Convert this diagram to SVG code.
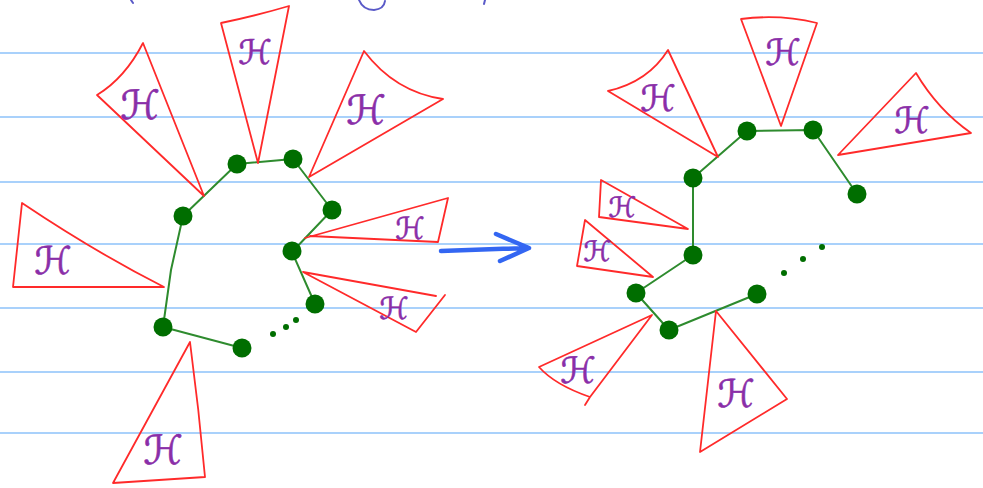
<svg xmlns="http://www.w3.org/2000/svg" width="983" height="488" viewBox="0 0 983 488">
<style>
.rule{stroke:#a9d1fb;stroke-width:2;fill:none}
.edge{stroke:#2e8b2e;stroke-width:2;fill:none;stroke-linejoin:round}
.dot{fill:#006e00}
.tri{stroke:#ff2a2a;stroke-width:1.8;fill:none;stroke-linejoin:round;stroke-linecap:round}
.h{fill:#8a2ea8;stroke:#8a2ea8;stroke-width:0.6;font-family:"DejaVu Sans",sans-serif;text-anchor:middle;dominant-baseline:central}
.ink{stroke:#5a5ac8;stroke-width:2;fill:none;stroke-linecap:round}
</style>
<rect width="983" height="488" fill="#ffffff"/>
<g id="rules">
<line class="rule" x1="0" y1="53" x2="983" y2="53"/>
<line class="rule" x1="0" y1="117" x2="983" y2="117"/>
<line class="rule" x1="0" y1="182" x2="983" y2="182"/>
<line class="rule" x1="0" y1="244" x2="983" y2="244"/>
<line class="rule" x1="0" y1="308" x2="983" y2="308"/>
<line class="rule" x1="0" y1="372" x2="983" y2="372"/>
<line class="rule" x1="0" y1="433" x2="983" y2="433"/>
</g>
<g id="top-ink">
<path class="ink" d="M131,0 L133,3"/>
<path class="ink" d="M359,0 Q363,10 374,10 Q384,9 385,1"/>
<path class="ink" d="M485,0 L484,4"/>
</g>
<g id="connectors">
<polyline class="edge" points="163,327 171,270 183,216 237,164 293,159 332,210 292,252 315,304"/>
<polyline class="edge" points="163,327 242,348"/>
<polyline class="edge" points="857,194 813,130 747,131 693,178 693,255 636,293 669,330 757,294"/>
<path id="arrow" d="M441,251 L528,248 M496,234 L529,248 L500,261" stroke="#3366f2" stroke-width="4.5" fill="none" stroke-linecap="round" stroke-linejoin="round"/>
</g>
<g id="left-tri-1"><path class="tri" d="M204,196 L143,43 Q125,78 97,95 Z"/><text class="h" x="140" y="105" font-size="40">ℋ</text></g>
<g id="left-tri-2"><path class="tri" d="M258,163 L221,23 Q255,16 289,6 Z"/><text class="h" x="255" y="52" font-size="34">ℋ</text></g>
<g id="left-tri-3"><path class="tri" d="M309,177 L364,51 Q395,92 443,99 Z"/><text class="h" x="366" y="110" font-size="40">ℋ</text></g>
<g id="left-tri-4"><path class="tri" d="M305,238 L448,198 L438,242 L310,236"/><text class="h" x="410" y="228" font-size="30">ℋ</text></g>
<g id="left-tri-5"><path class="tri" d="M436,296 L303,272 L416,332 L445,295"/><text class="h" x="394" y="308" font-size="30">ℋ</text></g>
<g id="left-tri-6"><path class="tri" d="M22,203 L13,287 L164,287 Q95,252 22,203 Z"/><text class="h" x="53" y="261" font-size="38">ℋ</text></g>
<g id="left-tri-7"><path class="tri" d="M190,342 L113,483 L205,477 Q199,410 190,342 Z"/><text class="h" x="163" y="450" font-size="40">ℋ</text></g>
<g id="right-tri-a"><path class="tri" d="M718,157 L668,50 Q648,82 608,91 Z"/><text class="h" x="658" y="98" font-size="36">ℋ</text></g>
<g id="right-tri-b"><path class="tri" d="M781,126 L741,19 Q780,14 817,23 Z"/><text class="h" x="783" y="52" font-size="36">ℋ</text></g>
<g id="right-tri-c"><path class="tri" d="M838,155 L916,73 Q938,110 971,133 Z"/><text class="h" x="912" y="120" font-size="36">ℋ</text></g>
<g id="right-tri-d"><path class="tri" d="M601,180 L599,217 L688,229 Z"/><text class="h" x="622" y="207" font-size="28">ℋ</text></g>
<g id="right-tri-e"><path class="tri" d="M585,220 L577,266 L653,277 Z"/><text class="h" x="597" y="251" font-size="28">ℋ</text></g>
<g id="right-tri-f"><path class="tri" d="M652,315 L539,367 Q555,385 590,397 Z M590,397 L585,405"/><text class="h" x="578" y="370" font-size="36">ℋ</text></g>
<g id="right-tri-g"><path class="tri" d="M716,311 L700,452 L787,399 Z"/><text class="h" x="736" y="394" font-size="38">ℋ</text></g>
<g id="node-l1"><circle class="dot" cx="183" cy="216" r="9.5"/></g>
<g id="node-l2"><circle class="dot" cx="237" cy="164" r="9.5"/></g>
<g id="node-l3"><circle class="dot" cx="293" cy="159" r="9.5"/></g>
<g id="node-l4"><circle class="dot" cx="332" cy="210" r="9.5"/></g>
<g id="node-l5"><circle class="dot" cx="292" cy="251" r="9.5"/></g>
<g id="node-l6"><circle class="dot" cx="315" cy="304" r="9.5"/></g>
<g id="node-l7"><circle class="dot" cx="163" cy="327" r="9.5"/></g>
<g id="node-l8"><circle class="dot" cx="242" cy="348" r="9.5"/></g>
<g id="dots-left"><circle class="dot" cx="273" cy="334" r="3"/><circle class="dot" cx="286" cy="327" r="3"/><circle class="dot" cx="296" cy="320" r="3"/></g>
<g id="node-r1"><circle class="dot" cx="857" cy="194" r="9.5"/></g>
<g id="node-r2"><circle class="dot" cx="813" cy="130" r="9.5"/></g>
<g id="node-r3"><circle class="dot" cx="747" cy="131" r="9.5"/></g>
<g id="node-r4"><circle class="dot" cx="693" cy="178" r="9.5"/></g>
<g id="node-r5"><circle class="dot" cx="693" cy="255" r="9.5"/></g>
<g id="node-r6"><circle class="dot" cx="636" cy="293" r="9.5"/></g>
<g id="node-r7"><circle class="dot" cx="669" cy="330" r="9.5"/></g>
<g id="node-r8"><circle class="dot" cx="757" cy="294" r="9.5"/></g>
<g id="dots-right"><circle class="dot" cx="784" cy="273" r="3"/><circle class="dot" cx="803" cy="259" r="3"/><circle class="dot" cx="822" cy="247" r="3"/></g>
</svg>
